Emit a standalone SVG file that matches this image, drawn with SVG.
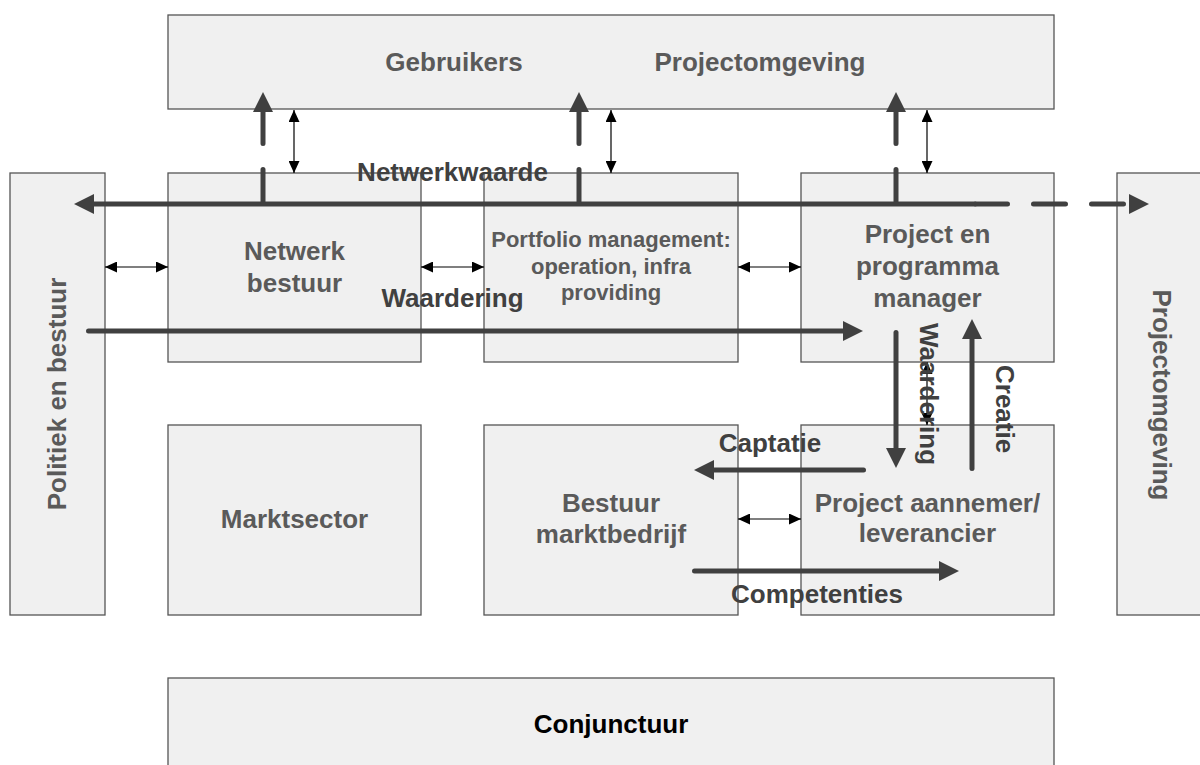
<svg xmlns="http://www.w3.org/2000/svg" width="1200" height="765" viewBox="0 0 1200 765">
<style>
.box{fill:#f0f0f0;stroke:#555;stroke-width:1.3}
.lbl{font-family:"Liberation Sans",Arial,sans-serif;font-weight:bold;font-size:26px;fill:#5a5a5a;text-anchor:middle}
.sm{font-size:22px}
.flow{font-family:"Liberation Sans",Arial,sans-serif;font-weight:bold;font-size:26px;fill:#404040}
.thick{fill:none;stroke:#404040;stroke-width:5;stroke-linecap:round;marker-end:url(#big)}
.dash{stroke-dasharray:32 26}
.thin{fill:none;stroke:#000;stroke-width:1.2;marker-start:url(#small);marker-end:url(#small)}
</style>
<defs>
<marker id="big" markerUnits="userSpaceOnUse" markerWidth="20" markerHeight="20" refX="0" refY="10" orient="auto" viewBox="0 0 20 20">
<path d="M0,0 L20,10 L0,20 z" fill="#404040"/>
</marker>
<marker id="small" markerUnits="userSpaceOnUse" markerWidth="12" markerHeight="11" refX="12" refY="5.5" orient="auto-start-reverse" viewBox="0 0 12 11">
<path d="M0,0 L12,5.5 L0,11 z" fill="#000"/>
</marker>
</defs>
<rect width="1200" height="765" fill="#fff"/>

<g id="top-omgeving">
<rect class="box" x="168" y="15" width="886" height="94"/>
<text class="lbl" x="454" y="71">Gebruikers</text>
<text class="lbl" x="760" y="71">Projectomgeving</text>
</g>
<g id="politiek">
<rect class="box" x="10" y="173" width="95" height="442"/>
<text class="lbl" transform="translate(66,394) rotate(-90)">Politiek en bestuur</text>
</g>
<g id="projectomgeving-rechts">
<rect class="box" x="1117" y="173" width="100" height="442"/>
<text class="lbl" transform="translate(1153,395) rotate(90)">Projectomgeving</text>
</g>
<g id="netwerk-bestuur">
<rect class="box" x="168" y="173" width="253" height="189"/>
<text class="lbl" x="294.5" y="260">Netwerk</text>
<text class="lbl" x="294.5" y="292">bestuur</text>
</g>
<g id="portfolio">
<rect class="box" x="484" y="173" width="254" height="189"/>
<text class="lbl sm" x="611" y="247">Portfolio management:</text>
<text class="lbl sm" x="611" y="273.5">operation, infra</text>
<text class="lbl sm" x="611" y="300">providing</text>
</g>
<g id="project-manager">
<rect class="box" x="801" y="173" width="253" height="189"/>
<text class="lbl" x="927.5" y="243">Project en</text>
<text class="lbl" x="927.5" y="275">programma</text>
<text class="lbl" x="927.5" y="307">manager</text>
</g>
<g id="marktsector">
<rect class="box" x="168" y="425" width="253" height="190"/>
<text class="lbl" x="294.5" y="528">Marktsector</text>
</g>
<g id="bestuur-marktbedrijf">
<rect class="box" x="484" y="425" width="254" height="190"/>
<text class="lbl" x="611" y="512">Bestuur</text>
<text class="lbl" x="611" y="543">marktbedrijf</text>
</g>
<g id="project-aannemer">
<rect class="box" x="801" y="425" width="253" height="190"/>
<text class="lbl" x="927.5" y="512">Project aannemer/</text>
<text class="lbl" x="927.5" y="542">leverancier</text>
</g>
<g id="conjunctuur">
<rect class="box" x="168" y="678" width="886" height="100"/>
<text class="lbl" x="611" y="733" style="fill:#000">Conjunctuur</text>
</g>

<g id="connectors">
<!-- thin double arrows -->
<path class="thin" d="M294,110 V173"/>
<path class="thin" d="M611,110 V173"/>
<path class="thin" d="M927,110 V173"/>
<path class="thin" d="M105,267 H168"/>
<path class="thin" d="M421,267 H484"/>
<path class="thin" d="M738,267 H801"/>
<path class="thin" d="M738,519 H801"/>
<path class="thin" d="M927,362 V425"/>
<!-- netwerkwaarde -->
<path class="thick" d="M975,204 H94"/>
<path class="thick dash" d="M975.5,204 H1129"/>
<path class="thick dash" d="M263,201.5 V112"/>
<path class="thick dash" d="M579,201.5 V112"/>
<path class="thick dash" d="M896,201.5 V112"/>
<!-- waardering -->
<path class="thick" d="M88.5,331 H843"/>
<path class="thick" d="M896,332.5 V448"/>
<path class="thick" d="M972,468.5 V339"/>
<!-- captatie / competenties -->
<path class="thick" d="M863.5,470 H714"/>
<path class="thick" d="M694.5,571 H939"/>
</g>

<g id="flow-labels">
<text class="flow" x="452.5" y="181" text-anchor="middle">Netwerkwaarde</text>
<text class="flow" x="452.5" y="307" text-anchor="middle">Waardering</text>
<text class="flow" transform="translate(920,323) rotate(90)">Waardering</text>
<text class="flow" transform="translate(996,365) rotate(90)">Creatie</text>
<text class="flow" x="770" y="452" text-anchor="middle">Captatie</text>
<text class="flow" x="817" y="603" text-anchor="middle">Competenties</text>
</g>
</svg>
